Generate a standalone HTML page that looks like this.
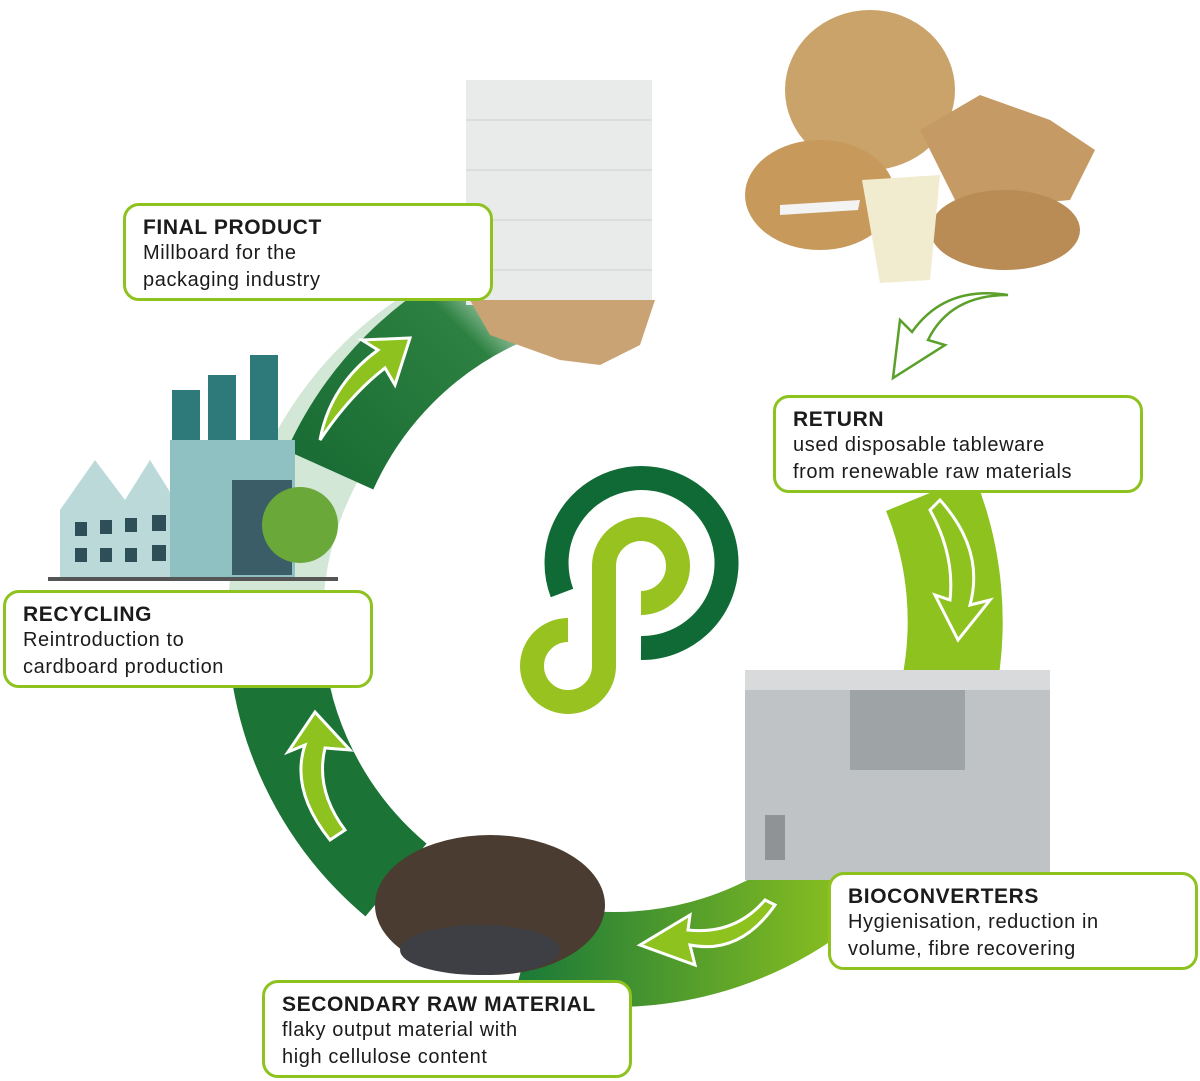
<!DOCTYPE html>
<html><head><meta charset="utf-8"><style>
body{margin:0;width:1200px;height:1081px;background:#fff;overflow:hidden;position:relative;font-family:"Liberation Sans",sans-serif}
.box{position:absolute;width:340px;height:92px;border:3px solid #8dc21f;border-radius:16px;background:#fff;padding:0 0 0 17px;box-sizing:border-box;color:#1b1b1b}
.box b{display:block;font-size:21px;margin-top:10px;letter-spacing:.6px}
.box span{display:block;font-size:20px;line-height:27px;letter-spacing:.6px}
</style></head><body>
<svg width="1200" height="1081" style="position:absolute;left:0;top:0">
<defs>
<linearGradient id="gb" x1="0" y1="0" x2="1" y2="0"><stop offset="0" stop-color="#1d7a38"/><stop offset="1" stop-color="#8dc21f"/></linearGradient>
<linearGradient id="gt" x1="0" y1="1" x2="1" y2="0"><stop offset="0" stop-color="#1a6e35"/><stop offset=".8" stop-color="#2c8040"/><stop offset="1" stop-color="#b8d8bf"/></linearGradient>
</defs>
<g fill="none" stroke-width="95">
<path d="M287,708 A340 340 0 0 1 556,285" stroke="#d3e7d6"/>
<path d="M930,493 A340 340 0 0 1 948,691" stroke="#8dc21f"/>
<path d="M855,860 A340 340 0 0 1 527,948" stroke="url(#gb)"/>
<path d="M396,880 A340 340 0 0 1 278,667" stroke="#1b7336"/>
<path d="M330,470 A340 340 0 0 1 499,300" stroke="url(#gt)"/>
</g>
<g fill="#8dc21f" stroke="#fff" stroke-width="3">
<path d="M320,440 Q330,385 378,350 L362,340 L410,338 L395,385 L385,368 Q350,395 320,440Z"/>
<path d="M940,500 Q985,550 970,605 L990,600 L958,640 L935,595 L950,600 Q955,555 930,510Z"/>
<path d="M775,905 Q740,955 690,945 L695,965 L640,945 L690,915 L688,930 Q735,935 765,900Z"/>
<path d="M330,840 Q290,790 305,745 L288,752 L315,712 L350,750 L325,748 Q315,790 345,830Z"/>
</g>
<path d="M1008,295 Q950,295 928,340 L945,345 L893,378 L900,320 L912,332 Q945,285 1008,295Z" fill="#fff" stroke="#5aa02a" stroke-width="2.5"/>
<path d="M562,593 A85 85 0 1 1 641,648" fill="none" stroke="#0f6a35" stroke-width="24"/>
<path d="M568,630 A36 36 0 1 0 604,666 L604,566 A37 37 0 1 1 641,603" fill="none" stroke="#97c21f" stroke-width="24"/>
<rect x="466" y="80" width="186" height="225" fill="#e9eaea"/>
<g stroke="#cfd1d2" stroke-width="1"><line x1="466" y1="120" x2="652" y2="120"/><line x1="466" y1="170" x2="652" y2="170"/><line x1="466" y1="220" x2="652" y2="220"/><line x1="466" y1="270" x2="652" y2="270"/></g>
<polygon points="470,300 655,300 640,345 600,365 560,360 490,335" fill="#c9a373"/>
<ellipse cx="870" cy="90" rx="85" ry="80" fill="#c9a36a"/>
<ellipse cx="820" cy="195" rx="75" ry="55" fill="#c79a5c"/>
<polygon points="920,130 980,95 1050,120 1095,150 1070,200 960,210" fill="#c59a64"/>
<ellipse cx="1005" cy="230" rx="75" ry="40" fill="#b98b55"/>
<polygon points="862,180 940,175 930,280 880,283" fill="#f1ecd0"/>
<path d="M780,205 L860,200 L858,210 L780,215Z" fill="#f3f3f3"/>
<rect x="172" y="390" width="28" height="90" fill="#2e7a7a"/>
<rect x="208" y="375" width="28" height="100" fill="#2e7a7a"/>
<rect x="250" y="355" width="28" height="120" fill="#2e7a7a"/>
<polygon points="60,510 95,460 125,500 150,460 175,500 175,580 60,580" fill="#bcd9da"/>
<g fill="#2f4f58"><rect x="75" y="522" width="12" height="14"/><rect x="100" y="520" width="12" height="14"/><rect x="125" y="518" width="12" height="14"/><rect x="75" y="548" width="12" height="14"/><rect x="100" y="548" width="12" height="14"/><rect x="125" y="548" width="12" height="14"/><rect x="152" y="515" width="14" height="16"/><rect x="152" y="545" width="14" height="16"/><rect x="198" y="512" width="16" height="18"/><rect x="198" y="542" width="16" height="18"/></g>
<rect x="170" y="440" width="125" height="140" fill="#8fc1c3"/>
<rect x="232" y="480" width="60" height="95" fill="#3b5d67"/>
<circle cx="300" cy="525" r="38" fill="#6aa83a"/>
<rect x="48" y="577" width="290" height="4" fill="#555"/>
<rect x="745" y="670" width="305" height="210" fill="#bfc3c6"/>
<rect x="745" y="670" width="305" height="20" fill="#d8dadb"/>
<rect x="850" y="690" width="115" height="80" fill="#9ea3a6"/>
<rect x="765" y="815" width="20" height="45" fill="#8f9396"/>
<ellipse cx="490" cy="905" rx="115" ry="70" fill="#4a3c30"/>
<ellipse cx="480" cy="950" rx="80" ry="25" fill="#3d3f44"/>
</svg>
<div class="box" style="left:123px;top:203px;width:370px;height:98px"><b>FINAL PRODUCT</b><span>Millboard for the<br>packaging industry</span></div>
<div class="box" style="left:773px;top:395px;width:370px;height:98px"><b>RETURN</b><span>used disposable tableware<br>from renewable raw materials</span></div>
<div class="box" style="left:3px;top:590px;width:370px;height:98px"><b>RECYCLING</b><span>Reintroduction to<br>cardboard production</span></div>
<div class="box" style="left:828px;top:872px;width:370px;height:98px"><b>BIOCONVERTERS</b><span>Hygienisation, reduction in<br>volume, fibre recovering</span></div>
<div class="box" style="left:262px;top:980px;width:370px;height:98px"><b>SECONDARY RAW MATERIAL</b><span>flaky output material with<br>high cellulose content</span></div>
</body></html>
